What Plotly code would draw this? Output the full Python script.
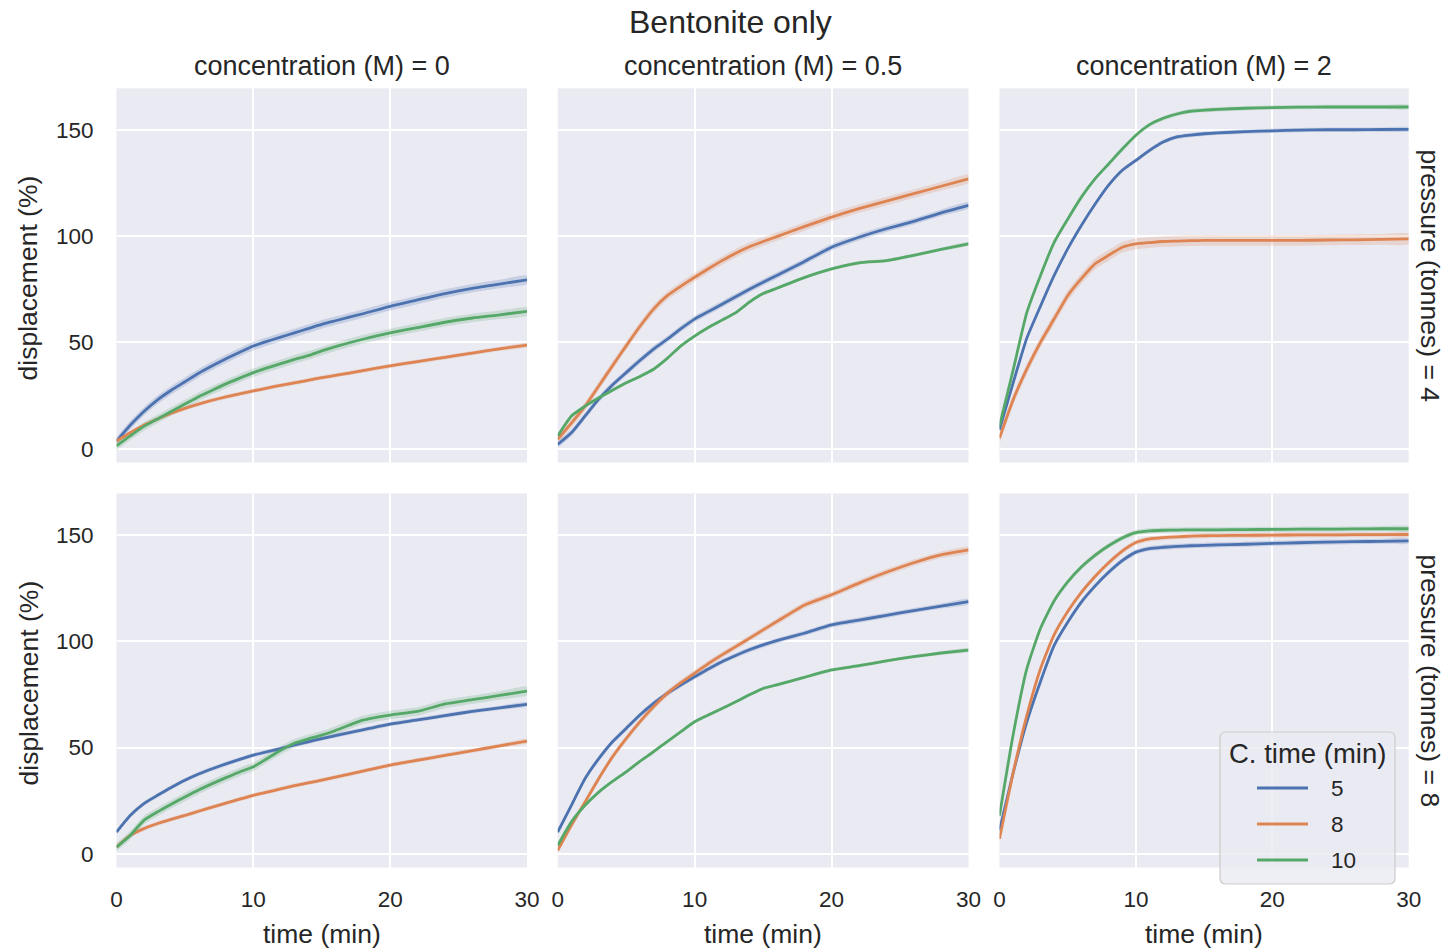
import plotly.graph_objects as go
from plotly.subplots import make_subplots

# Sampling times (min) shared by every curve
TIME = [0, 1, 2, 3, 4, 5, 6, 7, 8, 9, 10, 11, 12, 13, 14, 15, 16, 18, 20, 22, 24, 26, 28, 30]

PRESSURES = [4, 8]                   # tonnes (facet rows)
CONCENTRATIONS = ["0", "0.5", "2"]   # M (facet columns)
CURE_TIMES = ["5", "8", "10"]        # C. time (min) (hue)

# Mean displacement (%) per facet, keyed by C. time
P4_C0_T5 = [3.5, 11, 17.5, 23, 27.5, 31.5, 35.5, 39, 42.3, 45.4, 48.3, 50.5, 52.5, 54.5, 56.5, 58.5, 60.2, 63.5, 67, 70, 73, 75.5, 77.5, 79.5]
P4_C0_T8 = [3.6, 7.5, 11, 14, 16.7, 19, 21, 22.8, 24.4, 25.8, 27.2, 28.5, 29.8, 31, 32.2, 33.4, 34.5, 36.7, 39, 41, 43, 45, 47, 48.7]
P4_C0_T10 = [1.3, 6, 10.5, 14, 17.5, 21, 24.5, 27.5, 30.5, 33.2, 35.8, 38, 40, 42, 43.8, 46, 48, 51.5, 54.5, 57, 59.5, 61.5, 63, 64.6]

P4_C05_T5 = [2, 7.5, 15.4, 23.3, 30, 35.8, 41.5, 46.9, 51.5, 56.5, 61, 64.5, 68, 71.5, 75, 78.3, 81.5, 88, 94.8, 99.5, 103.5, 107, 111, 114.5]
P4_C05_T8 = [4.4, 12, 20, 29.5, 39, 48.4, 57.5, 65.7, 72, 76.5, 80.7, 84.7, 88.5, 92, 95, 97.5, 99.8, 104.5, 109, 113, 116.5, 120, 123.5, 127]
P4_C05_T10 = [6, 15.4, 20, 24, 27.5, 31, 34, 37.4, 42.5, 48.4, 53, 57, 60.5, 64, 69, 73, 75.5, 80.5, 84.6, 87.5, 88.5, 91, 93.8, 96.4]

P4_C2_T5 = [9, 31, 52, 67, 81.4, 94, 105, 115, 124, 131, 135.7, 140.4, 144.3, 146.7, 147.6, 148.2, 148.6, 149.2, 149.6, 149.9, 150.1, 150.1, 150.2, 150.3]
P4_C2_T8 = [5, 23, 37.4, 50, 61, 72, 80, 87, 91, 94.8, 96.4, 97, 97.5, 97.7, 97.9, 98, 98, 98, 98, 98, 98.2, 98.3, 98.5, 98.7]
P4_C2_T10 = [10.7, 37, 64, 81.4, 97, 108, 118.4, 127, 134, 141, 147.5, 152.5, 155.5, 157.5, 158.8, 159.3, 159.7, 160.2, 160.5, 160.7, 160.8, 160.8, 160.8, 160.8]

P8_C0_T5 = [10.2, 18, 23.6, 27.5, 31.2, 34.6, 37.5, 40, 42.3, 44.4, 46.4, 48, 49.5, 51.2, 52.7, 54.2, 55.6, 58.3, 61, 63, 65, 67, 68.7, 70.3]
P8_C0_T8 = [3.1, 8.6, 11.8, 14.2, 16.2, 18, 20, 21.9, 23.8, 25.7, 27.5, 29, 30.5, 32, 33.3, 34.6, 36, 38.9, 41.7, 44, 46.3, 48.5, 50.8, 53]
P8_C0_T10 = [3.1, 8.6, 15.7, 19.7, 23.3, 26.7, 30, 33, 35.8, 38.5, 40.9, 44.8, 48.7, 52, 54, 55.8, 58, 62.9, 65.3, 67, 70.5, 72.5, 74.5, 76.6]

P8_C05_T5 = [10.2, 22.8, 35.4, 44.8, 52.7, 59, 65.3, 70.8, 75.5, 79.5, 83.3, 87, 90.4, 93.3, 96, 98.3, 100.3, 103.8, 107.7, 110, 112.2, 114.5, 116.6, 118.7]
P8_C05_T8 = [1.6, 13.4, 24.4, 35.4, 45.6, 54.2, 62.1, 69.2, 75.5, 80.5, 85, 89.5, 93.6, 97.5, 101.4, 105.4, 109.3, 117, 121.9, 127.4, 132.5, 137, 140.7, 143]
P8_C05_T10 = [3.9, 15, 22.8, 29, 34, 38.5, 43.5, 48, 52.8, 57.5, 62.1, 65.3, 68.4, 71.5, 74.8, 77.8, 79.5, 83, 86.5, 88.5, 90.8, 92.8, 94.5, 95.9]

P8_C2_T5 = [11, 38, 62, 81, 98, 109, 118.5, 126, 132.5, 138, 142, 143.7, 144.3, 144.7, 145, 145.2, 145.4, 145.7, 146.1, 146.4, 146.7, 146.9, 147.1, 147.3]
P8_C2_T8 = [7, 38, 65, 87, 103, 114, 123, 130.5, 137, 142.5, 146.5, 148.2, 148.8, 149.2, 149.5, 149.7, 149.8, 149.9, 150, 150.1, 150.1, 150.2, 150.2, 150.3]
P8_C2_T10 = [18, 56, 87, 106, 119, 128, 135, 140.5, 145, 148.7, 151.2, 152, 152.3, 152.4, 152.5, 152.5, 152.5, 152.6, 152.7, 152.8, 152.8, 152.9, 153, 153]

# Half-width of the 95% confidence band for each curve (same order as CURE_TIMES)
CI_P4 = [[2.0, 1.0, 2.0], [1.5, 2.0, 0.8], [1.0, 2.5, 1.0]]
CI_P8 = [[1.0, 1.0, 2.0], [1.2, 1.5, 0.8], [1.2, 1.2, 1.2]]

SERIES = {
    (4, "0"): [P4_C0_T5, P4_C0_T8, P4_C0_T10],
    (4, "0.5"): [P4_C05_T5, P4_C05_T8, P4_C05_T10],
    (4, "2"): [P4_C2_T5, P4_C2_T8, P4_C2_T10],
    (8, "0"): [P8_C0_T5, P8_C0_T8, P8_C0_T10],
    (8, "0.5"): [P8_C05_T5, P8_C05_T8, P8_C05_T10],
    (8, "2"): [P8_C2_T5, P8_C2_T8, P8_C2_T10],
}
CI = {4: CI_P4, 8: CI_P8}

COLORS = ["#4C72B0", "#DD8452", "#55A868"]
BANDS = ["rgba(76,114,176,0.22)", "rgba(221,132,82,0.22)", "rgba(85,168,104,0.22)"]
TEXT = "#262626"
FONT = "Liberation Sans, Arial, sans-serif"

W, H = 1449, 951
X_DOMAINS = [(116.5, 527.0), (557.7, 968.5), (999.5, 1408.7)]
Y_DOMAINS = [(88.3, 462.5), (493.5, 867.5)]


def px(x):
    return x / W


def py(y):
    return 1 - y / H


fig = make_subplots(rows=2, cols=3)

for r, p in enumerate(PRESSURES):
    for c, conc in enumerate(CONCENTRATIONS):
        curves = SERIES[(p, conc)]
        for k, vals in enumerate(curves):
            hw = CI[p][c][k]
            upper = [v + hw for v in vals]
            lower = [v - hw for v in vals]
            fig.add_trace(go.Scatter(
                x=TIME + TIME[::-1], y=upper + lower[::-1],
                fill="toself", fillcolor=BANDS[k], line=dict(width=0, shape="spline", smoothing=0.5),
                mode="lines", hoverinfo="skip", showlegend=False,
            ), row=r + 1, col=c + 1)
        for k, vals in enumerate(curves):
            fig.add_trace(go.Scatter(
                x=TIME, y=vals, mode="lines",
                line=dict(color=COLORS[k], width=2.8, shape="spline", smoothing=0.5),
                name=CURE_TIMES[k], showlegend=False,
            ), row=r + 1, col=c + 1)

for r in range(2):
    for c in range(3):
        x0, x1 = X_DOMAINS[c]
        y0, y1 = Y_DOMAINS[r]
        fig.update_xaxes(
            domain=[px(x0), px(x1)], range=[0, 30], tickvals=[0, 10, 20, 30],
            showticklabels=(r == 1), ticks="", ticklabelstandoff=16, automargin=False,
            showgrid=True, gridcolor="white", gridwidth=1.6, zeroline=False,
            showline=False, tickfont=dict(size=22.5, color=TEXT, family=FONT),
            row=r + 1, col=c + 1,
        )
        fig.update_yaxes(
            domain=[py(y1), py(y0)], range=[-6.5, 169.6],
            tickvals=[0, 50, 100, 150],
            showticklabels=(c == 0), ticks="", ticklabelstandoff=22, automargin=False,
            showgrid=True, gridcolor="white", gridwidth=1.6, zeroline=False,
            showline=False, tickfont=dict(size=22.5, color=TEXT, family=FONT),
            row=r + 1, col=c + 1,
        )

annotations = [
    dict(text="Bentonite only", x=px(730), y=py(22), font=dict(size=32)),
]
for c, conc in enumerate(CONCENTRATIONS):
    xm = (X_DOMAINS[c][0] + X_DOMAINS[c][1]) / 2
    annotations.append(dict(text=f"concentration (M) = {conc}", x=px(xm), y=py(66), font=dict(size=27)))
    annotations.append(dict(text="time (min)", x=px(xm), y=py(934), font=dict(size=26.5)))
for r, p in enumerate(PRESSURES):
    ym = (Y_DOMAINS[r][0] + Y_DOMAINS[r][1]) / 2
    annotations.append(dict(text="displacement (%)", x=px(28), y=py(ym + 3), textangle=-90, font=dict(size=26.5)))
    annotations.append(dict(text=f"pressure (tonnes) = {p}", x=px(1430), y=py(ym), textangle=90, font=dict(size=26.5)))

# Legend for the hue variable, drawn in the lower-right facet
LEG = dict(x0=1220, x1=1395, y0=732, y1=884, rad=6)
shapes = []
x0, x1, y0, y1, rad = LEG["x0"], LEG["x1"], LEG["y0"], LEG["y1"], LEG["rad"]
path = (
    f"M {px(x0 + rad)},{py(y0)} L {px(x1 - rad)},{py(y0)} "
    f"Q {px(x1)},{py(y0)} {px(x1)},{py(y0 + rad)} L {px(x1)},{py(y1 - rad)} "
    f"Q {px(x1)},{py(y1)} {px(x1 - rad)},{py(y1)} L {px(x0 + rad)},{py(y1)} "
    f"Q {px(x0)},{py(y1)} {px(x0)},{py(y1 - rad)} L {px(x0)},{py(y0 + rad)} "
    f"Q {px(x0)},{py(y0)} {px(x0 + rad)},{py(y0)} Z"
)
shapes.append(dict(type="path", path=path, xref="paper", yref="paper", layer="above",
                   fillcolor="rgba(234,234,242,0.8)", line=dict(color="#CCCCCC", width=1.2)))
annotations.append(dict(text="C. time (min)", x=px((x0 + x1) / 2), y=py(753), font=dict(size=27.5)))
for k, name in enumerate(CURE_TIMES):
    yk = 788 + 36 * k
    shapes.append(dict(type="line", xref="paper", yref="paper", layer="above",
                       x0=px(1257), x1=px(1308), y0=py(yk), y1=py(yk),
                       line=dict(color=COLORS[k], width=2.8)))
    annotations.append(dict(text=name, x=px(1329), y=py(yk), xanchor="left", font=dict(size=22.5)))

for a in annotations:
    a.setdefault("xanchor", "center")
    a.update(xref="paper", yref="paper", showarrow=False, yanchor="middle")
    a["font"].update(color=TEXT, family=FONT)

fig.update_layout(
    width=W, height=H,
    margin=dict(l=0, r=0, t=0, b=0, autoexpand=False),
    paper_bgcolor="white", plot_bgcolor="#EAEAF2",
    font=dict(family=FONT, color=TEXT, size=22),
    annotations=annotations,
    shapes=shapes,
    showlegend=False,
)

fig.write_html("out.html")
